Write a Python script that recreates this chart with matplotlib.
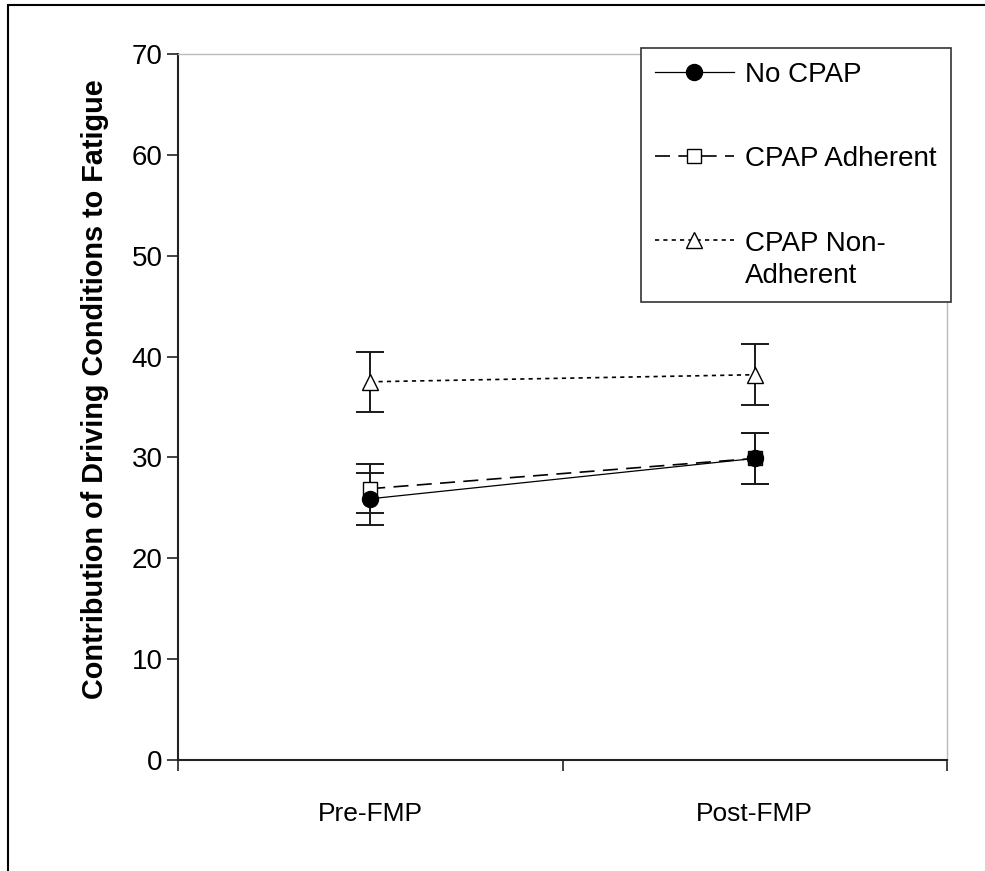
import matplotlib
matplotlib.use("Agg")
import matplotlib.pyplot as plt
from matplotlib.patches import Rectangle

categories = ["Pre-FMP", "Post-FMP"]
no_cpap = [25.9, 29.9]
no_cpap_err = [2.6, 2.5]
adherent = [26.9, 29.9]
adherent_err = [2.4, 2.5]
non_adherent = [37.5, 38.2]
non_adherent_err = [3.0, 3.05]
y_ticks = [0, 10, 20, 30, 40, 50, 60, 70]
series_labels = ["No CPAP", "CPAP Adherent", "CPAP Non-\nAdherent"]

plt.rcParams['font.family'] = ['Liberation Sans', 'DejaVu Sans']

fig = plt.figure(figsize=(9.85, 8.71), dpi=100)
fig.patch.set_facecolor("white")
# outer frame (top and left visible)
fig.add_artist(Rectangle((8/985, -0.05), 1.2, 1 - 5/871 + 0.05, transform=fig.transFigure,
                         fill=False, edgecolor="black", linewidth=1.5))

ax = fig.add_axes([178/985, 1 - 760/871, (947-178)/985, (760-54)/871])
x = [0.5, 1.5]

ecol = "#1a1a1a"
for vals, errs in [(non_adherent, non_adherent_err), (adherent, adherent_err), (no_cpap, no_cpap_err)]:
    ax.errorbar(x, vals, yerr=errs, fmt="none", ecolor=ecol,
                elinewidth=1.4, capsize=10, capthick=1.4, zorder=2)

l1, = ax.plot(x, no_cpap, color="black", linewidth=0.9, linestyle="-",
              marker="o", markersize=11.5, markerfacecolor="black",
              markeredgecolor="black", zorder=4)
l2, = ax.plot(x, adherent, color="black", linewidth=1.2, linestyle=(0, (9, 5)),
              marker="s", markersize=10, markerfacecolor="white",
              markeredgecolor="black", markeredgewidth=1.0, zorder=3)
l3, = ax.plot(x, non_adherent, color="black", linewidth=1.2, linestyle=(0, (2.5, 2.5)),
              marker="^", markersize=12, markerfacecolor="white",
              markeredgecolor="black", markeredgewidth=1.0, zorder=3)

ax.set_xlim(0, 2)
ax.set_ylim(0, 70)
ax.set_yticks(y_ticks)
ax.set_yticklabels([str(v) for v in y_ticks], fontsize=20)
ax.set_xticks([0, 1, 2])
ax.set_xticklabels([])
ax.set_xticks(x, minor=True)
ax.set_xticklabels(categories, minor=True, fontsize=19)
ax.tick_params(axis="x", which="minor", length=0, pad=30)
ax.tick_params(axis="x", which="major", direction="out", length=8, width=1.2, color="#222222")
ax.tick_params(axis="y", direction="out", length=8, width=1.2, color="#222222", pad=3)

for side in ["left", "bottom"]:
    ax.spines[side].set_color("#222222")
    ax.spines[side].set_linewidth(1.5)
for side in ["top", "right"]:
    ax.spines[side].set_color("#bbbbbb")
    ax.spines[side].set_linewidth(1.0)

ax.set_ylabel("Contribution of Driving Conditions to Fatigue", fontsize=20.8,
              fontweight="bold")
ax.yaxis.set_label_coords((109 - 178) / 769, 0.525)

leg = ax.legend([l1, l2, l3], series_labels,
                loc="upper left", bbox_to_anchor=(641/985, 1 - 48/871),
                bbox_transform=fig.transFigure, fontsize=20, frameon=True,
                fancybox=False, edgecolor="#333333", framealpha=1,
                handlelength=2.85, handletextpad=0.4, labelspacing=2.1,
                borderpad=0.5, borderaxespad=0, numpoints=1, markerscale=1.0)
leg.get_frame().set_linewidth(1.2)
for t in leg.get_texts():
    t.set_linespacing(1.3)
# align the handle of the two-line entry with its first line
for col in leg._legend_handle_box.get_children():
    for item in col.get_children():
        item.align = "top"

fig.savefig("out.png", dpi=100, facecolor="white")
